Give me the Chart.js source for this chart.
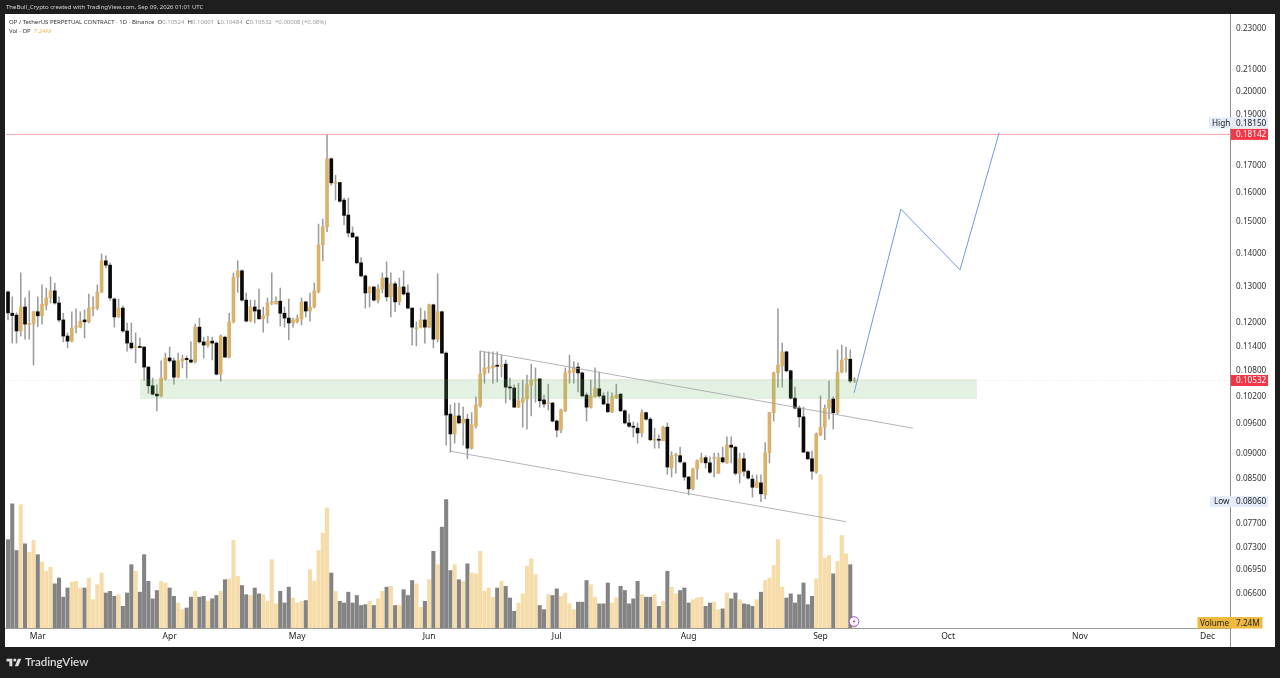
<!DOCTYPE html>
<html>
<head>
<meta charset="utf-8">
<title>OP / TetherUS</title>
<script src="https://cdn.jsdelivr.net/npm/chart.js@4/dist/chart.umd.min.js"></script>
<style>
html, body { margin: 0; padding: 0; background: #1e1e1e; width: 1280px; height: 678px; overflow: hidden; }
body { position: relative; font-family: "Noto Sans", sans-serif; }
#pane { position: absolute; left: 5px; top: 14px; width: 1270px; height: 633px; background: #fff; }
#axisLine { position: absolute; left: 1230px; top: 14px; width: 1px; height: 633px; background: #8f8f8f; }
#chart { position: absolute; left: 0; top: 0; }
.txt { position: absolute; white-space: pre; line-height: 9px; }
#credit { left: 6px; top: 3px; font-size: 6px; color: #d6d6d6; }
#title { left: 9px; top: 18px; font-size: 6px; color: #333; }
#volTitle { left: 9px; top: 27px; font-size: 6px; color: #333; }
#title span { color: #9a9a9a; }
#volTitle span { color: #e8b94f; }
#brand { left: 25px; top: 654px; font: 600 11.6px/16px Lato, sans-serif; color: #dcdcdc; }
#logo { position: absolute; left: 6px; top: 657px; }
</style>
</head>
<body>
<div id="pane"></div>
<div id="axisLine"></div>
<canvas id="chart" width="1280" height="678"></canvas>
<div class="txt" id="credit">TheBull_Crypto created with TradingView.com, Sep 09, 2026 01:01 UTC</div>
<div class="txt" id="title">OP / TetherUS PERPETUAL CONTRACT · 1D · Binance  O<span>0.10524</span>  H<span>0.10601</span>  L<span>0.10484</span>  C<span>0.10532</span>  <span>+0.00008 (+0.08%)</span></div>
<div class="txt" id="volTitle">Vol · OP  <span>7.24M</span></div>
<svg id="logo" width="16" height="10" viewBox="0 0 36 24"><path fill="#dcdcdc" d="M14 22H7V11H0V4h14v18zM28 22h-8l7.5-18h8L28 22z"/><circle fill="#dcdcdc" cx="20" cy="7" r="3.6"/></svg>
<div class="txt" id="brand">TradingView</div>

<script>
// daily candles, first one is Feb 22
const opens = [
    .1281,.1222,.1217,.1175,.1239,.1192,.1193,.1226,.1215,.1244,
    .1264,.1284,.1250,.1204,.1162,.1149,.1185,.1185,.1204,.1199,
    .1235,.1236,.1280,.1372,.1359,.1261,.1212,.1236,.1175,.1144,
    .1133,.1135,.1134,.1085,.1041,.1022,.1018,.1057,.1107,.1100,
    .1061,.1100,.1106,.1102,.1097,.1185,.1147,.1139,.1149,.1144,
    .1068,.1159,.1109,.1199,.1324,.1342,.1258,.1201,.1239,.1231,
    .1207,.1215,.1250,.1247,.1255,.1222,.1209,.1196,.1199,.1207,
    .1253,.1228,.1239,.1281,.1421,.1479,.1719,.1628,.1631,.1569,
    .1518,.1459,.1446,.1366,.1327,.1278,.1295,.1258,.1289,.1321,
    .1267,.1304,.1253,.1295,.1278,.1236,.1181,.1185,.1204,.1185,
    .1245,.1154,.1226,.1119,.0978,.0936,.0974,.0959,.0967,.0907,
    .0952,.0996,.1068,.1082,.1083,.1089,.1087,.1092,.1038,.1036,
    .0993,.1004,.1011,.1043,.1053,.1057,.1009,.1001,.1002,.0963,
    .0944,.0985,.1071,.1073,.1085,.1071,.1020,.0993,.1016,.1034,
    .1018,.1000,.0983,.1013,.1022,.0985,.0959,.0952,.0948,.0938,
    .0981,.0967,.0923,.0925,.0922,.0950,.0868,.0892,.0892,.0878,
    .0851,.0829,.0866,.0880,.0888,.0878,.0887,.0858,.0888,.0878,
    .0913,.0909,.0858,.0886,.0862,.0847,.0832,.0840,.0818,.0898,
    .0981,.1071,.1088,.1122,.1076,.1013,.0991,.0972,.0899,.0886,
    .0860,.0934,.0950,.0991,.1011,.0981,.1073,.1103,.1104,.10524
];
const closes = [
    .1223,.1216,.1175,.1239,.1193,.1194,.1226,.1215,.1247,.1264,
    .1284,.1250,.1204,.1162,.1149,.1183,.1188,.1201,.1199,.1236,
    .1237,.1280,.1372,.1359,.1264,.1212,.1236,.1175,.1144,.1132,
    .1135,.1133,.1085,.1041,.1022,.1018,.1059,.1107,.1100,.1061,
    .1100,.1105,.1103,.1097,.1185,.1147,.1139,.1149,.1144,.1068,
    .1162,.1109,.1199,.1324,.1342,.1258,.1201,.1239,.1228,.1207,
    .1215,.1250,.1253,.1255,.1222,.1209,.1196,.1204,.1209,.1253,
    .1228,.1239,.1284,.1421,.1479,.1719,.1630,.1631,.1565,.1517,
    .1459,.1446,.1366,.1327,.1278,.1295,.1258,.1289,.1321,.1267,
    .1304,.1253,.1295,.1275,.1236,.1185,.1183,.1204,.1185,.1245,
    .1154,.1226,.1119,.0976,.0936,.0974,.0959,.0967,.0907,.0955,
    .0998,.1068,.1083,.1084,.1088,.1087,.1089,.1038,.1036,.0993,
    .1007,.1013,.1043,.1054,.1055,.1007,.1000,.1003,.0963,.0944,
    .0987,.1071,.1076,.1083,.1071,.1018,.0993,.1018,.1036,.1018,
    .1000,.0983,.1016,.1020,.0985,.0959,.0952,.0950,.0938,.0981,
    .0967,.0924,.0925,.0923,.0950,.0870,.0892,.0894,.0880,.0851,
    .0829,.0866,.0882,.0888,.0878,.0860,.0889,.0888,.0880,.0913,
    .0909,.0858,.0886,.0862,.0849,.0832,.0842,.0820,.0898,.0981,
    .1071,.1090,.1122,.1076,.1013,.0991,.0972,.0899,.0886,.0862,
    .0936,.0950,.0991,.1009,.0981,.1073,.1102,.1106,.1052,.10532
];
const highs = [
    .1284,.1267,.1223,.1336,.1264,.1284,.1227,.1267,.1301,.1292,
    .1324,.1306,.1267,.1222,.1170,.1226,.1234,.1226,.1231,.1275,
    .1267,.1301,.1393,.1387,.1366,.1264,.1261,.1242,.1196,.1196,
    .1170,.1157,.1135,.1086,.1059,.1043,.1100,.1119,.1134,.1107,
    .1119,.1114,.1112,.1147,.1193,.1209,.1159,.1162,.1159,.1147,
    .1165,.1162,.1222,.1336,.1372,.1345,.1278,.1258,.1258,.1289,
    .1239,.1264,.1336,.1267,.1292,.1239,.1261,.1209,.1217,.1264,
    .1254,.1278,.1306,.1488,.1505,.1815,.1722,.1658,.1632,.1576,
    .1576,.1479,.1449,.1382,.1330,.1296,.1296,.1301,.1336,.1369,
    .1336,.1310,.1321,.1342,.1301,.1237,.1199,.1236,.1228,.1247,
    .1247,.1333,.1228,.1122,.0998,.1002,.1002,.0993,.0978,.0981,
    .1016,.1124,.1122,.1122,.1122,.1122,.1114,.1102,.1059,.1043,
    .1047,.1054,.1066,.1092,.1083,.1057,.1020,.1045,.1004,.0965,
    .0989,.1083,.1114,.1098,.1095,.1073,.1025,.1054,.1083,.1073,
    .1025,.1027,.1025,.1045,.1023,.0987,.0978,.0961,.0959,.0987,
    .0982,.0971,.0948,.0934,.0952,.0959,.0900,.0897,.0909,.0880,
    .0852,.0868,.0884,.0897,.0892,.0890,.0897,.0897,.0909,.0930,
    .0930,.0911,.0897,.0897,.0864,.0855,.0855,.0855,.0918,.0982,
    .1073,.1234,.1144,.1124,.1078,.1038,.0996,.0993,.0901,.0901,
    .0938,.1018,.0998,.1052,.1016,.1127,.1139,.1134,.1127,.10601
];
const lows = [
    .1204,.1144,.1144,.1162,.1154,.1154,.1090,.1186,.1193,.1231,
    .1250,.1247,.1199,.1147,.1132,.1147,.1170,.1183,.1157,.1196,
    .1215,.1231,.1279,.1351,.1258,.1185,.1211,.1172,.1124,.1129,
    .1095,.1132,.1054,.1024,.1020,.0985,.1016,.1054,.1097,.1045,
    .1059,.1083,.1059,.1095,.1095,.1144,.1107,.1134,.1102,.1066,
    .1052,.1109,.1107,.1196,.1280,.1255,.1199,.1199,.1196,.1206,
    .1172,.1196,.1245,.1250,.1188,.1185,.1152,.1185,.1196,.1191,
    .1212,.1201,.1236,.1278,.1372,.1463,.1622,.1569,.1562,.1485,
    .1446,.1446,.1363,.1324,.1236,.1239,.1255,.1250,.1278,.1255,
    .1212,.1226,.1245,.1272,.1234,.1139,.1137,.1183,.1144,.1183,
    .1132,.1147,.1119,.0913,.0899,.0917,.0957,.0913,.0886,.0905,
    .0948,.0993,.1047,.1071,.1047,.1050,.1061,.1002,.1009,.0993,
    .0992,.0950,.0946,.0974,.1004,.0993,.0993,.0987,.0961,.0930,
    .0938,.0983,.1047,.1047,.1027,.1016,.0963,.0991,.1015,.1015,
    .0998,.0981,.0981,.1012,.0983,.0957,.0950,.0930,.0917,.0930,
    .0965,.0922,.0907,.0907,.0922,.0856,.0851,.0858,.0878,.0845,
    .0818,.0827,.0847,.0878,.0868,.0858,.0851,.0858,.0878,.0877,
    .0878,.0855,.0840,.0853,.0847,.0814,.0831,.0806,.0811,.0878,
    .0963,.1038,.1038,.1073,.1011,.0989,.0950,.0899,.0884,.0847,
    .0858,.0932,.0924,.0967,.0946,.0978,.1071,.1073,.1048,.10484
];
// volume in millions
const volumes = [
    106,149,93,148,101,91,105,88,79,68,
    73,53,60,37,48,55,56,48,48,60,
    34,52,66,42,44,38,40,26,42,76,
    68,43,88,56,35,45,56,54,48,38,
    30,22,24,37,44,37,38,32,35,39,
    44,58,59,105,62,51,40,39,48,41,
    40,32,82,29,44,30,49,36,30,32,
    33,70,56,93,114,144,66,44,32,30,
    43,30,39,27,28,32,27,35,44,49,
    50,27,27,46,39,57,53,25,32,58,
    92,76,121,154,69,76,58,56,77,66,
    65,92,44,48,37,48,56,50,36,20,
    30,41,74,83,64,27,22,40,39,47,
    38,42,29,22,31,31,57,52,37,29,
    29,54,30,36,50,45,29,35,56,40,
    37,37,40,26,32,68,49,41,45,48,
    30,34,36,37,26,30,31,22,23,42,
    35,42,34,29,28,26,34,43,57,60,
    75,106,49,36,41,30,40,54,28,38,
    59,184,84,87,65,80,111,89,76,7.24
];

const priceTicks = [0.23, 0.21, 0.20, 0.19, 0.17, 0.16, 0.15, 0.14, 0.13, 0.12, 0.114, 0.108, 0.102, 0.096, 0.09, 0.085, 0.077, 0.073, 0.0695, 0.066];
const monthNames = ['Mar', 'Apr', 'May', 'Jun', 'Jul', 'Aug', 'Sep', 'Oct', 'Nov', 'Dec'];
const monthSlots = [7, 38, 68, 99, 129, 160, 191, 221, 252, 282];

// drawings, x is the slot number on the time axis
const channelTop = [{ x: 111, y: .1124 }, { x: 212.7, y: .0948 }];
const channelBottom = [{ x: 103.9, y: .0901 }, { x: 197, y: .0771 }];
const forecast = [{ x: 198.9, y: .1025 }, { x: 209.9, y: .1538 }, { x: 223.8, y: .1345 }, { x: 233, y: .1821 }];
const zoneTop = .1057;
const zoneBottom = .1011;
const zoneFrom = 31;
const zoneTo = 227.8;
const highPrice = .18142;
const lastPrice = .10532;
const lowPrice = .0806;

// time axis runs on past the last candle
const slotCount = 288;
const days = [];
for (let i = 0; i < slotCount; i++) {
    const d = new Date(Date.UTC(2026, 1, 22 + i));
    days.push(d.toISOString().slice(0, 10));
}

const upColor = '#dbb26a';
const downColor = '#0a0a0a';
const volUp = '#f5dca8';
const volDown = '#848484';
const font = '"Noto Sans", sans-serif';

function isUp(i) {
    return closes[i] >= opens[i];
}

function flatLine(y, from, to) {
    return [{ x: from, y: y }, { x: to, y: y }];
}

function lineSet(data, color, extra) {
    return Object.assign({
        type: 'line',
        data: data,
        xAxisID: 'xLine',
        yAxisID: 'y',
        borderColor: color,
        borderWidth: 1,
        pointRadius: 0,
        tension: 0,
        order: 1
    }, extra || {});
}

function badge(ctx, x, y, w, h, bg, color, text, textX) {
    ctx.fillStyle = bg;
    ctx.fillRect(x, y - h / 2, w, h);
    ctx.fillStyle = color;
    ctx.textAlign = 'left';
    ctx.textBaseline = 'middle';
    ctx.fillText(text, textX, y + 0.5);
}

// price tags on the right and the little flash icon
const overlays = {
    id: 'overlays',
    afterDraw(chart) {
        const ctx = chart.ctx;
        const y = chart.scales.y;
        const right = chart.chartArea.right;
        ctx.save();
        ctx.font = '8.2px ' + font;
        const hiY = y.getPixelForValue(highPrice);
        badge(ctx, right - 22, hiY - 11.5, 22, 11, '#e3ecf8', '#222', 'High', right - 19);
        badge(ctx, right, hiY - 11.5, 37, 11, '#e3ecf8', '#222', '0.18150', right + 5);
        badge(ctx, right, hiY, 37, 11, '#f23645', '#fff', '0.18142', right + 5);
        badge(ctx, right, y.getPixelForValue(lastPrice), 37, 11, '#f23645', '#fff', '0.10532', right + 5);
        const loY = y.getPixelForValue(lowPrice);
        badge(ctx, right - 21, loY, 21, 11, '#e3ecf8', '#222', 'Low', right - 17);
        badge(ctx, right, loY, 37, 11, '#e3ecf8', '#222', '0.08060', right + 5);
        badge(ctx, right - 33.5, 622.8, 65, 11.5, '#efb93f', '#222', 'Volume', right - 31);
        ctx.fillStyle = '#222';
        ctx.fillText('7.24M', right + 5, 623.3);

        const cx = chart.scales.x.getPixelForValue(199) - 0.5;
        const cy = 621.5;
        ctx.beginPath();
        ctx.arc(cx, cy, 4.8, 0, Math.PI * 2);
        ctx.fillStyle = '#fff';
        ctx.fill();
        ctx.strokeStyle = '#a64fc9';
        ctx.lineWidth = 1;
        ctx.stroke();
        ctx.beginPath();
        ctx.moveTo(cx + 1.2, cy - 3);
        ctx.lineTo(cx - 1.6, cy + 0.6);
        ctx.lineTo(cx, cy + 0.4);
        ctx.lineTo(cx - 1.2, cy + 3);
        ctx.lineTo(cx + 1.6, cy - 0.6);
        ctx.lineTo(cx, cy - 0.4);
        ctx.closePath();
        ctx.fillStyle = '#a64fc9';
        ctx.fill();
        ctx.restore();
    }
};

const ctx = document.getElementById('chart').getContext('2d');
new Chart(ctx, {
    type: 'bar',
    data: {
        labels: days,
        datasets: [
            lineSet(flatLine(zoneTop, zoneFrom, zoneTo), 'rgba(0,0,0,0)', {
                borderWidth: 0,
                fill: { value: zoneBottom },
                backgroundColor: 'rgba(96,178,96,0.18)',
                order: 2
            }),
            lineSet(channelTop, '#a2a2a2', { borderWidth: 0.8 }),
            lineSet(channelBottom, '#a2a2a2', { borderWidth: 0.8 }),
            lineSet(forecast, '#7398de'),
            lineSet(flatLine(highPrice, -0.5, slotCount - 0.5), '#f0a6ae'),
            lineSet(flatLine(lastPrice, -0.5, slotCount - 0.5), 'rgba(242,54,69,0.16)', { borderDash: [1, 2], order: 6 }),
            {
                // candle bodies
                data: opens.map((o, i) => [o, closes[i]]),
                yAxisID: 'y',
                grouped: false,
                barThickness: 3,
                minBarLength: 1,
                backgroundColor: opens.map((o, i) => isUp(i) ? upColor : downColor),
                order: 3
            },
            {
                // wicks
                data: lows.map((l, i) => [l, highs[i]]),
                yAxisID: 'y',
                grouped: false,
                barThickness: 0.9,
                backgroundColor: '#9c9c9c',
                order: 4
            },
            {
                data: volumes,
                yAxisID: 'yVol',
                grouped: false,
                barThickness: 3.4,
                backgroundColor: volumes.map((v, i) => isUp(i) ? volUp : volDown),
                order: 5
            }
        ]
    },
    options: {
        responsive: false,
        animation: false,
        events: [],
        layout: { padding: { left: 5.875, top: 14, right: 5, bottom: 31 } },
        plugins: { legend: { display: false }, tooltip: { enabled: false } },
        scales: {
            x: {
                type: 'category',
                offset: true,
                grid: { display: false, drawTicks: false, tickLength: 0 },
                border: { display: true, color: '#9a9a9a' },
                ticks: {
                    autoSkip: false,
                    maxRotation: 0,
                    padding: 3,
                    color: '#222',
                    font: { size: 8.5, family: font },
                    callback: value => monthNames[monthSlots.indexOf(value)]
                },
                afterBuildTicks: scale => { scale.ticks = monthSlots.map(v => ({ value: v })); },
                afterFit: scale => { scale.height = 19; }
            },
            xLine: { type: 'linear', display: false, offset: false, min: -0.5, max: slotCount - 0.5 },
            y: {
                type: 'logarithmic',
                position: 'right',
                bounds: 'data',
                min: 0.06096,
                max: 0.2367,
                grid: { display: false, drawTicks: false, tickLength: 0 },
                border: { display: false },
                ticks: {
                    autoSkip: false,
                    padding: 5,
                    labelOffset: 1.5,
                    color: '#333',
                    font: { size: 8.2, family: font },
                    callback: value => Number(value).toFixed(5)
                },
                afterBuildTicks: scale => { scale.ticks = priceTicks.map(v => ({ value: v })); },
                afterFit: scale => { scale.width = 44; }
            },
            yVol: { type: 'linear', display: false, min: 0, max: 736.8 }
        }
    },
    plugins: [overlays]
});
</script>
</body>
</html>
